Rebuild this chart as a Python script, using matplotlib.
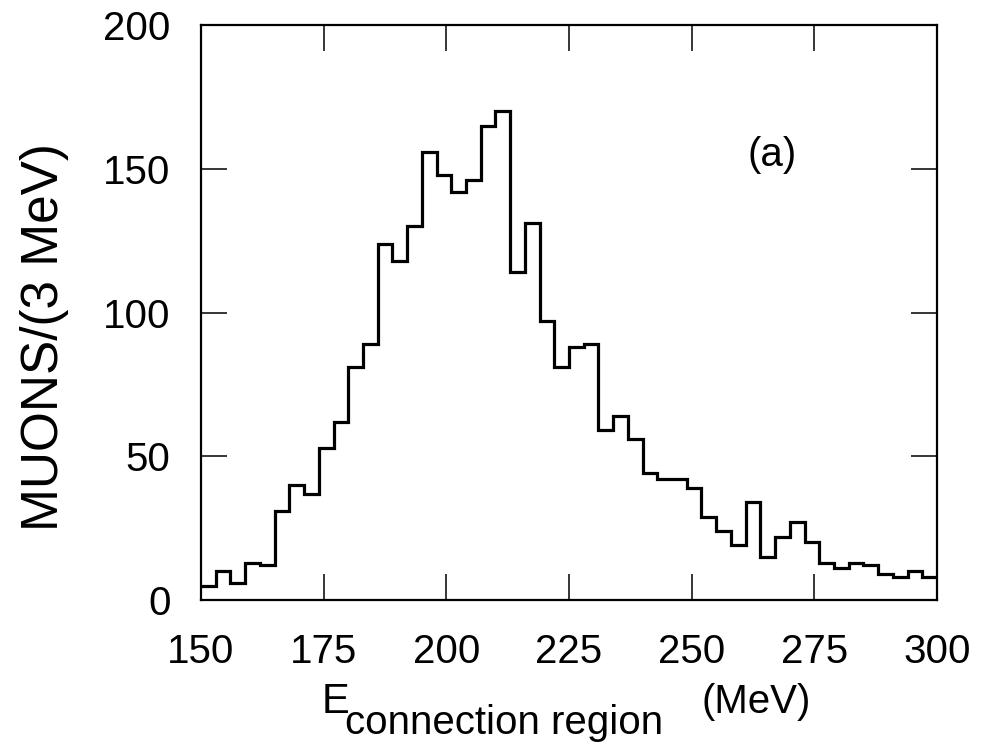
import numpy as np
import matplotlib
matplotlib.use("Agg")
import matplotlib.pyplot as plt

# Muon counts per 3 MeV bin, 150 -> 300 MeV
bin_start = 150
bin_width = 3
counts = [5, 10, 6, 13, 12, 31, 40, 37, 53, 62,
          81, 89, 124, 118, 130, 156, 148, 142, 146, 165,
          170, 114, 131, 97, 81, 88, 89, 59, 64, 56,
          44, 42, 42, 39, 29, 24, 19, 34, 15, 22,
          27, 20, 13, 11, 13, 12, 9, 8, 10, 8]
x_ticks = [150, 175, 200, 225, 250, 275, 300]
y_ticks = [0, 50, 100, 150, 200]

edges = bin_start + bin_width * np.arange(len(counts) + 1)

plt.rcParams["font.family"] = ["Liberation Sans", "DejaVu Sans"]

fig = plt.figure(figsize=(9.86, 7.47), dpi=100)
ax = fig.add_axes([0.2039, 0.1968, 0.7464, 0.7697])

ax.stairs(counts, edges, baseline=None, color="black", linewidth=2.3)

ax.set_xlim(150, 300)
ax.set_ylim(0, 200)
ax.set_xticks(x_ticks)
ax.set_yticks(y_ticks)
ax.tick_params(direction="in", length=19, width=1.1, top=True, right=True,
               labelsize=29, pad=22)
ax.tick_params(axis="x", pad=24)
for s in ax.spines.values():
    s.set_linewidth(1.6)

ax.text(266.3, 154.8, "(a)", fontsize=29, ha="center", va="center")

# axis labels
fig.text(45 / 986, 1 - 337 / 747, "MUONS/(3 MeV)", rotation=90,
         fontsize=37, ha="center", va="center")
fig.text(322 / 986, 1 - 713 / 747, "E", fontsize=30, va="baseline")
fig.text(345 / 986, 1 - 734 / 747, "connection region", fontsize=29, va="baseline")
fig.text(702 / 986, 1 - 713 / 747, "(MeV)", fontsize=29, va="baseline")

fig.savefig("out.png", dpi=100)
